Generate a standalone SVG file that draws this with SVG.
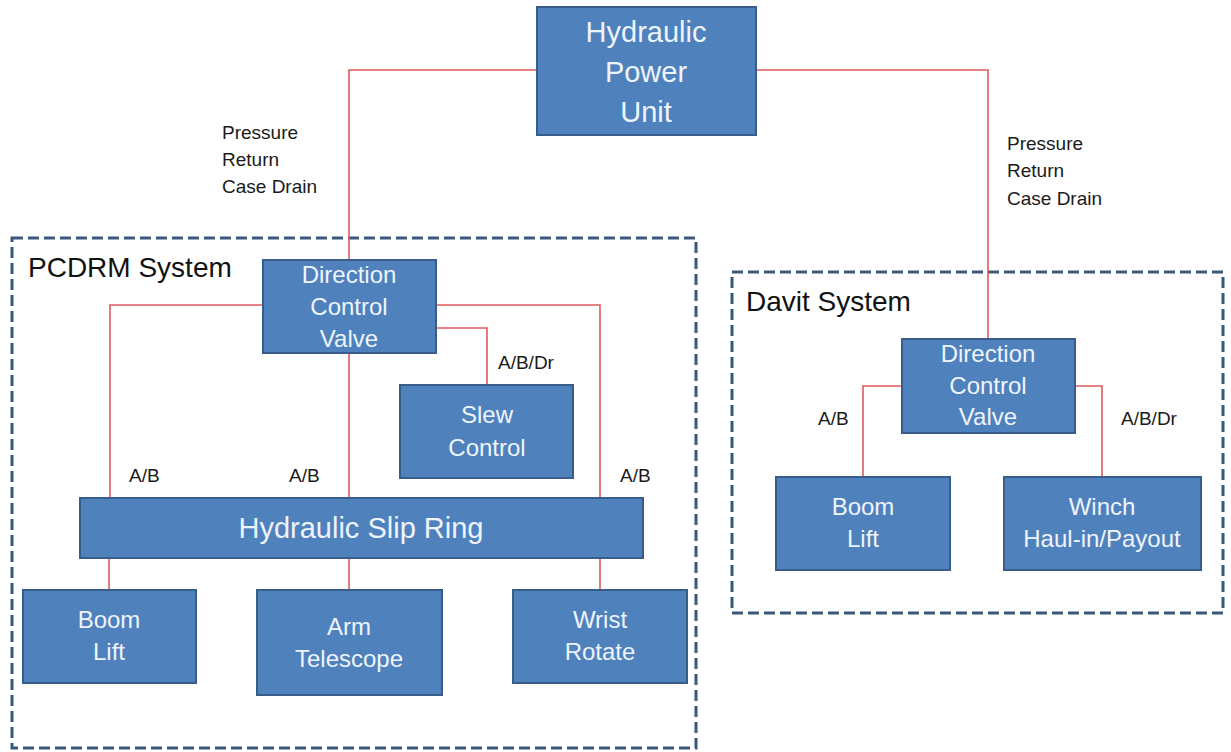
<svg xmlns="http://www.w3.org/2000/svg" width="1231" height="752" viewBox="0 0 1231 752">
<style>
.box{fill:#4F81BD;stroke:#385D8A;stroke-width:2}
.bt{font-family:"Liberation Sans",Arial,sans-serif;font-size:24px;fill:#EEF4FC;text-anchor:middle}
.big{font-size:29px}
.lbl{font-family:"Liberation Sans",Arial,sans-serif;font-size:19px;fill:#1a1a1a}
.ttl{font-family:"Liberation Sans",Arial,sans-serif;font-size:28px;fill:#111}
.dash{fill:none;stroke:#3A5878;stroke-width:3;stroke-dasharray:11 5}
.wire{fill:none;stroke:#E05A5E;stroke-width:1.6}
</style>
<rect width="1231" height="752" fill="#fff"/>
<g id="groups">
<rect id="pcdrm-frame" class="dash" x="12" y="238" width="684" height="510"/>
<text class="ttl" x="28" y="277">PCDRM System</text>
<rect id="davit-frame" class="dash" x="732" y="272" width="491" height="341"/>
<text class="ttl" x="746" y="311">Davit System</text>
</g>
<g id="connectors">
<path class="wire" d="M537,70 H349 V260"/>
<path class="wire" d="M756,70 H988 V339"/>
<path class="wire" d="M263,305 H110 V498"/>
<path class="wire" d="M349,353 V498"/>
<path class="wire" d="M436,305 H600 V498"/>
<path class="wire" d="M436,328 H487 V385"/>
<path class="wire" d="M109,558 V590"/>
<path class="wire" d="M349,558 V590"/>
<path class="wire" d="M600,558 V590"/>
<path class="wire" d="M902,386 H863 V477"/>
<path class="wire" d="M1075,386 H1102 V477"/>
</g>
<g id="labels">
<text class="lbl" x="222" y="139">Pressure</text>
<text class="lbl" x="222" y="166">Return</text>
<text class="lbl" x="222" y="193">Case Drain</text>
<text class="lbl" x="1007" y="150">Pressure</text>
<text class="lbl" x="1007" y="177">Return</text>
<text class="lbl" x="1007" y="205">Case Drain</text>
<text class="lbl" x="498" y="369">A/B/Dr</text>
<text class="lbl" x="129" y="482">A/B</text>
<text class="lbl" x="289" y="482">A/B</text>
<text class="lbl" x="620" y="482">A/B</text>
<text class="lbl" x="818" y="425">A/B</text>
<text class="lbl" x="1121" y="425">A/B/Dr</text>
</g>
<g id="hpu">
<rect class="box" x="537" y="7" width="219" height="128"/>
<text class="bt big" x="646" y="42">Hydraulic</text>
<text class="bt big" x="646" y="82">Power</text>
<text class="bt big" x="646" y="122">Unit</text>
</g>
<g id="pcdrm-dcv">
<rect class="box" x="263" y="260" width="173" height="93"/>
<text class="bt" x="349" y="283">Direction</text>
<text class="bt" x="349" y="315">Control</text>
<text class="bt" x="349" y="347">Valve</text>
</g>
<g id="slew-control">
<rect class="box" x="400" y="385" width="173" height="93"/>
<text class="bt" x="487" y="423">Slew</text>
<text class="bt" x="487" y="456">Control</text>
</g>
<g id="slip-ring">
<rect class="box" x="80" y="498" width="563" height="60"/>
<text class="bt big" x="361" y="538">Hydraulic Slip Ring</text>
</g>
<g id="pcdrm-boom-lift">
<rect class="box" x="23" y="590" width="173" height="93"/>
<text class="bt" x="109" y="628">Boom</text>
<text class="bt" x="109" y="660">Lift</text>
</g>
<g id="arm-telescope">
<rect class="box" x="257" y="590" width="185" height="105"/>
<text class="bt" x="349" y="635">Arm</text>
<text class="bt" x="349" y="667">Telescope</text>
</g>
<g id="wrist-rotate">
<rect class="box" x="513" y="590" width="174" height="93"/>
<text class="bt" x="600" y="628">Wrist</text>
<text class="bt" x="600" y="660">Rotate</text>
</g>
<g id="davit-dcv">
<rect class="box" x="902" y="339" width="173" height="94"/>
<text class="bt" x="988" y="362">Direction</text>
<text class="bt" x="988" y="394">Control</text>
<text class="bt" x="988" y="425">Valve</text>
</g>
<g id="davit-boom-lift">
<rect class="box" x="776" y="477" width="174" height="93"/>
<text class="bt" x="863" y="515">Boom</text>
<text class="bt" x="863" y="547">Lift</text>
</g>
<g id="winch">
<rect class="box" x="1004" y="477" width="197" height="93"/>
<text class="bt" x="1102" y="515">Winch</text>
<text class="bt" x="1102" y="547">Haul-in/Payout</text>
</g>
</svg>
